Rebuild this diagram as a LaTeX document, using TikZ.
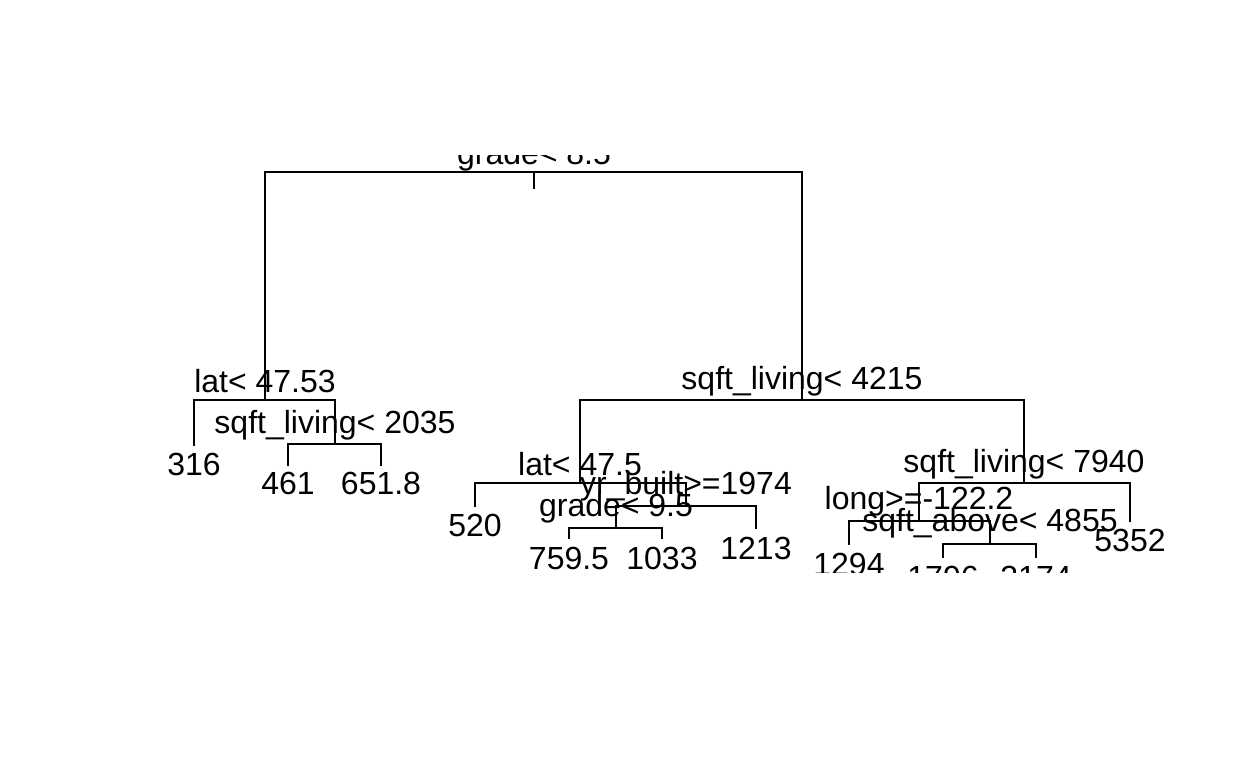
\documentclass[tikz,border=0pt]{standalone}
\usepackage{fontspec}
\setmainfont{Liberation Sans}
\usetikzlibrary{calc}
\tikzset{
  % branch lines and labels of the regression tree
  branch/.style = {line width=0.9pt, black, line cap=rect},
  split/.style  = {anchor=base, inner sep=0pt, font=\fontsize{16}{19}\selectfont},
  leaf/.style   = {anchor=base, inner sep=0pt, font=\fontsize{16}{19}\selectfont},
}

\begin{document}
\begin{tikzpicture}[x=0.5pt, y=-0.5pt]
  \useasboundingbox (0,0) rectangle (1248,768);
  \clip (0,155) rectangle (1248,572);
  % split points
  \coordinate (root) at (534,172);
  \coordinate (stub) at (534,188);
  \coordinate (n2)   at (265,400);
  \coordinate (n3)   at (802,400);
  \coordinate (n5)   at (335,444);
  \coordinate (n6)   at (580,483);
  \coordinate (n7)   at (1024,483);
  \coordinate (n13)  at (686,506);
  \coordinate (n14)  at (919,521);
  \coordinate (n26)  at (616,528);
  \coordinate (n29)  at (990,544);
  % leaf ends
  \coordinate (l4)   at (194,445);
  \coordinate (l10)  at (288,465);
  \coordinate (l11)  at (381,465);
  \coordinate (l12)  at (475,506);
  \coordinate (l27)  at (756,528);
  \coordinate (l52)  at (569,538);
  \coordinate (l53)  at (662,538);
  \coordinate (l15)  at (1130,521);
  \coordinate (l28)  at (849,544);
  \coordinate (l58)  at (943,557);
  \coordinate (l59)  at (1036,557);

  % branches
  \draw[branch] (root) -- (stub);
  \draw[branch] (n2) |- (root) -| (n3);
  \draw[branch] (l4) |- (n2) -| (n5);
  \draw[branch] (l10) |- (n5) -| (l11);
  \draw[branch] (n6) |- (n3) -| (n7);
  \draw[branch] (l12) |- (n6) -| (n13);
  \draw[branch] (n26) |- (n13) -| (l27);
  \draw[branch] (l52) |- (n26) -| (l53);
  \draw[branch] (n14) |- (n7) -| (l15);
  \draw[branch] (l28) |- (n14) -| (n29);
  \draw[branch] (l58) |- (n29) -| (l59);

  % split labels
  \node[split] (t1)  at (534,164) {grade< 8.5};
  \node[split] (t2)  at (265,392) {lat< 47.53};
  \node[split] (t5)  at (335,433) {sqft\_living< 2035};
  \node[split] (t3)  at (802,389) {sqft\_living< 4215};
  \node[split] (t6)  at (580,475) {lat< 47.5};
  \node[split] (t13) at (686,494) {yr\_built>=1974};
  \node[split] (t26) at (616,516) {grade< 9.5};
  \node[split] (t7)  at (1024,472) {sqft\_living< 7940};
  \node[split] (t14) at (919,509) {long>=-122.2};
  \node[split] (t29) at (990,531) {sqft\_above< 4855};

  % leaf labels
  \node[leaf] (v4)  at (194,475) {316};
  \node[leaf] (v10) at (288,494) {461};
  \node[leaf] (v11) at (381,494) {651.8};
  \node[leaf] (v12) at (475,536) {520};
  \node[leaf] (v52) at (569,569) {759.5};
  \node[leaf] (v53) at (662,569) {1033};
  \node[leaf] (v27) at (756,559) {1213};
  \node[leaf] (v28) at (849,575) {1294};
  \node[leaf] (v58) at (943,588) {1796};
  \node[leaf] (v59) at (1036,588) {3174};
  \node[leaf] (v15) at (1130,551) {5352};
\end{tikzpicture}
\end{document}
